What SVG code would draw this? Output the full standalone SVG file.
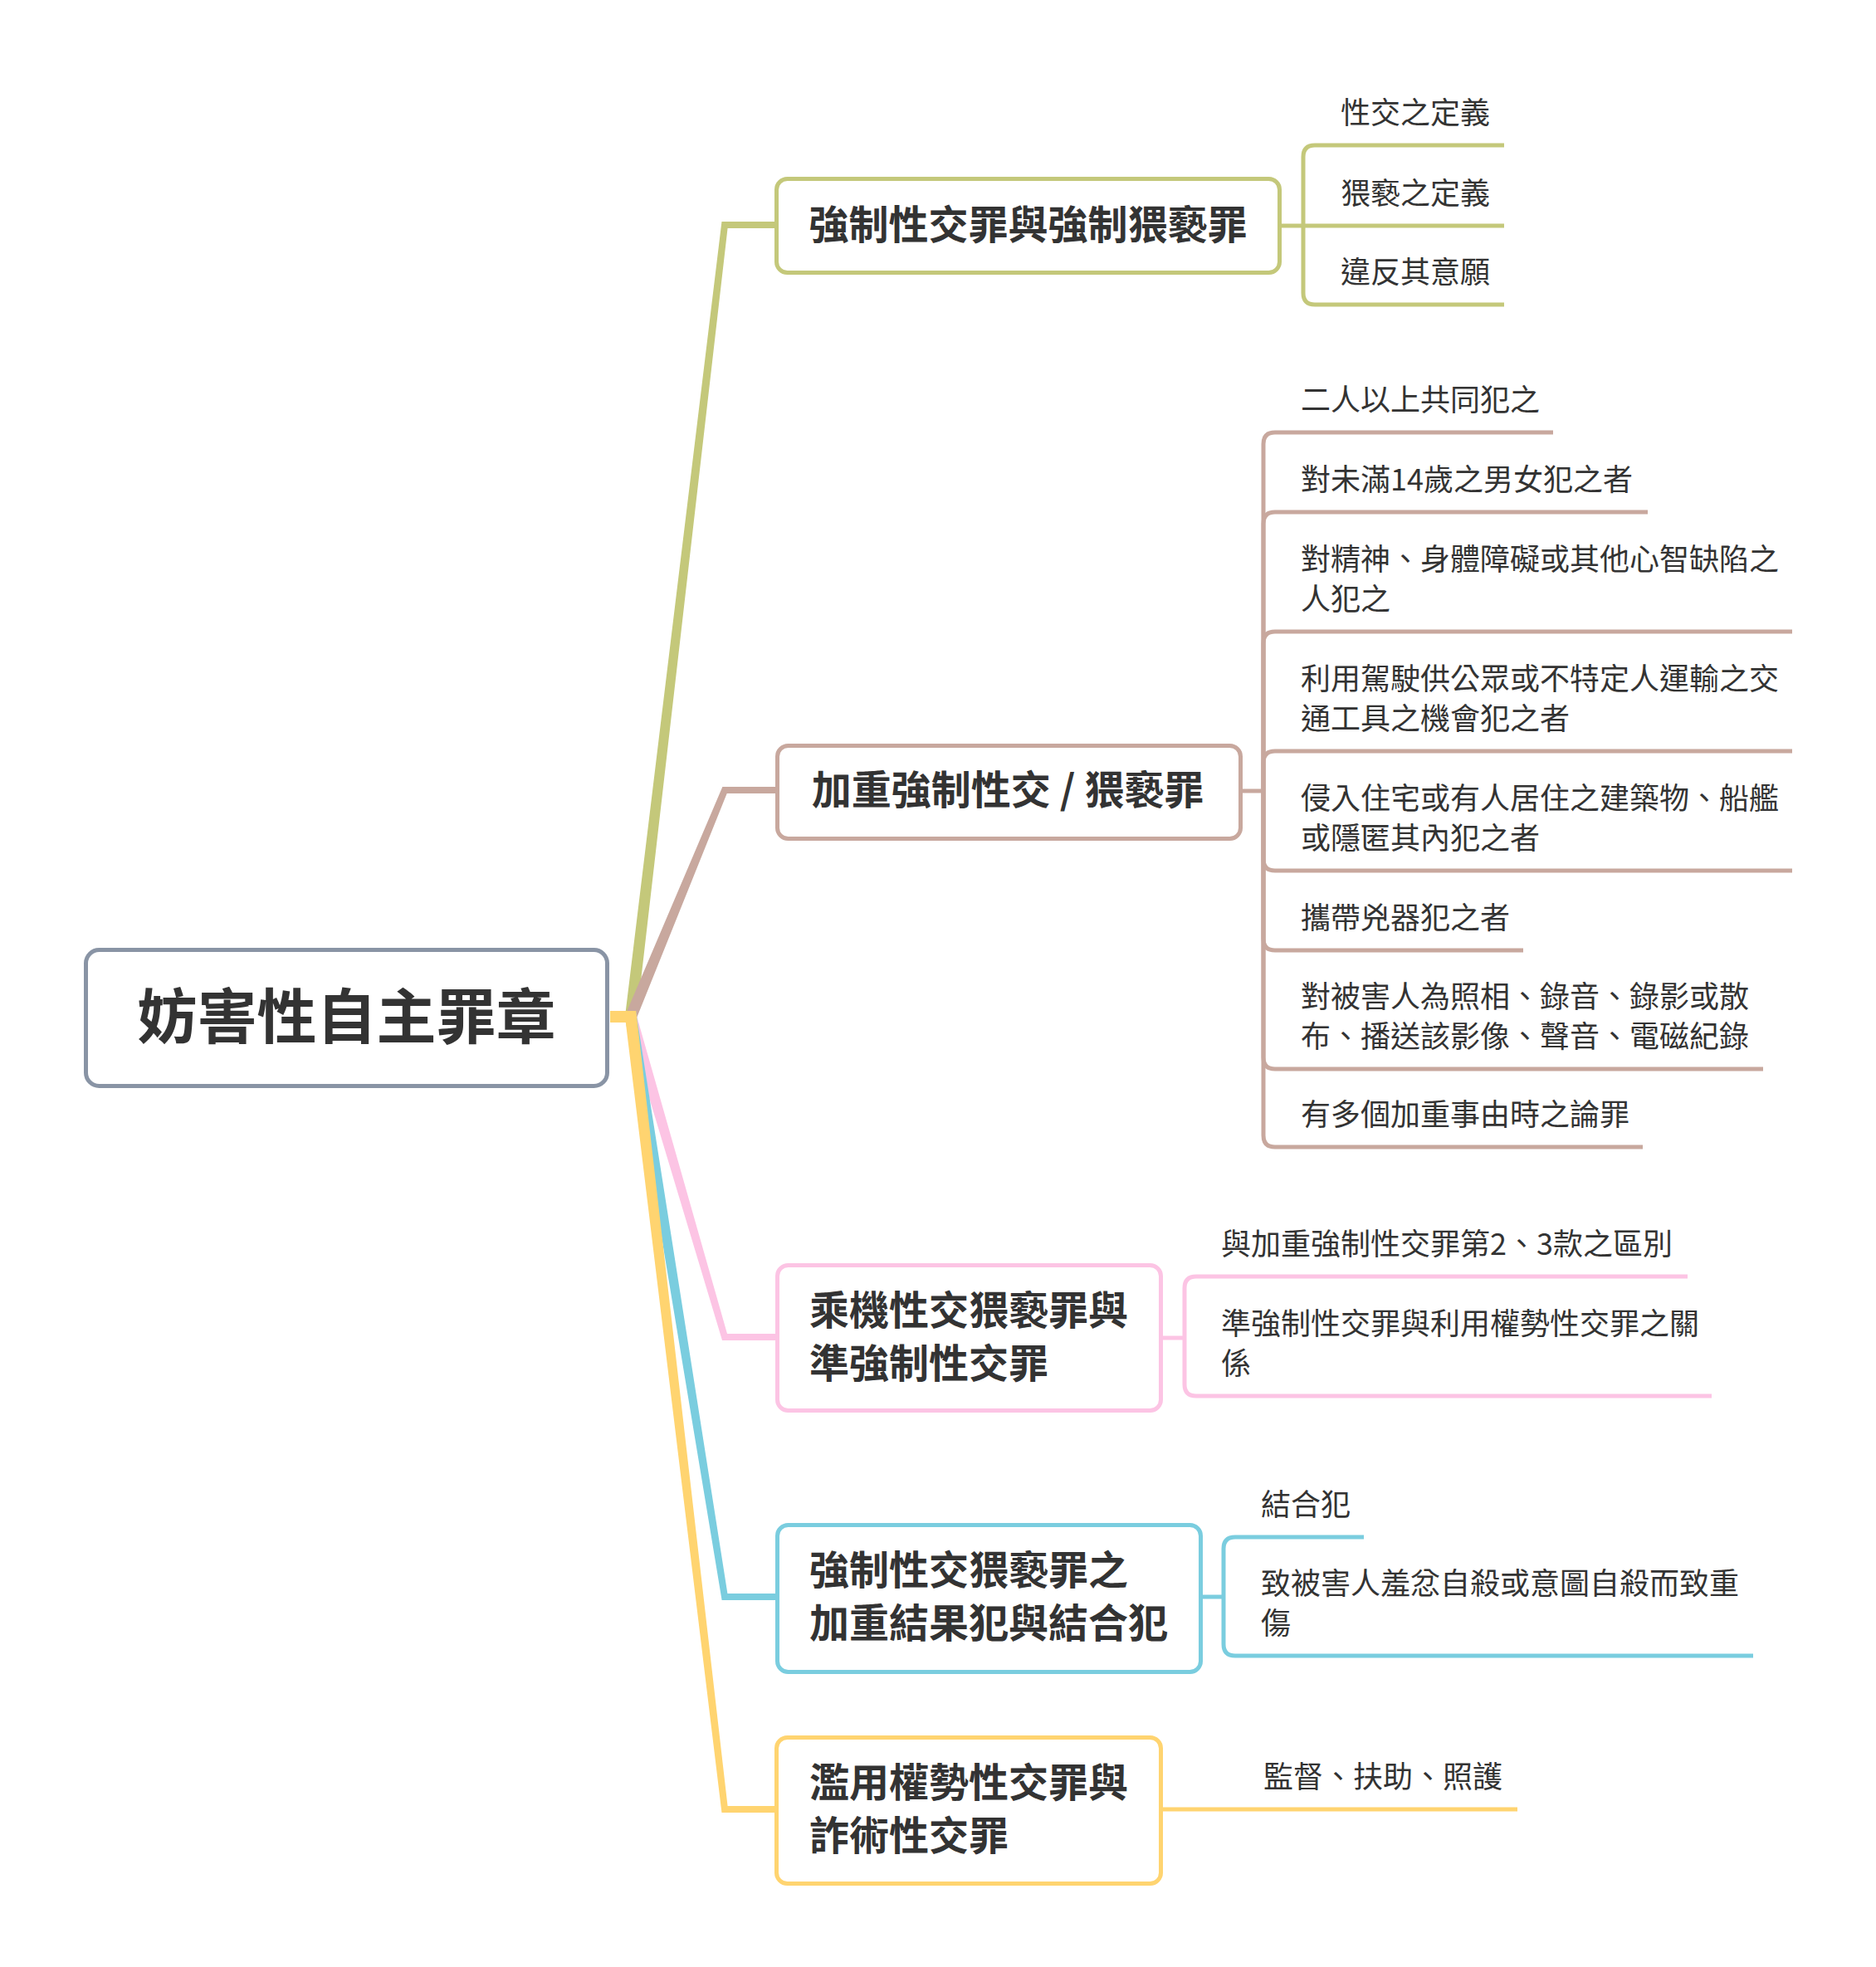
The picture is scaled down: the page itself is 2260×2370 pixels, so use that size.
<svg xmlns="http://www.w3.org/2000/svg" width="2260" height="2370" viewBox="0 0 2260 2370">
<style>
.t{font-family:"Noto Sans CJK TC","Noto Sans CJK SC",sans-serif;fill:#333333}
.root{font-size:72px;font-weight:700}
.main{font-size:48px;font-weight:700}
.sub{font-size:36px;font-weight:400}
.box{fill:#ffffff;stroke-width:5}
.ln{fill:none;stroke-width:5}
.green{stroke:#C4C87A}
.tan{stroke:#C8A89E}
.pink{stroke:#FCC4E4}
.blue{stroke:#7ACDDF}
.yellow{stroke:#FFD470}
</style>
<rect width="2260" height="2370" fill="#ffffff"/>
<g id="connectors">
  <polygon fill="#C4C87A" points="735,1218 753.8,1218 869.46,267 936,267 936,275 876.57,275 766.24,1232 735,1232"/>
  <polygon fill="#C8A89E" points="735,1218 755.4,1218 870.37,948 936,948 936,956 875.72,956 764.77,1232 735,1232"/>
  <polygon fill="#FCC4E4" points="735,1218 765.3,1218 876.03,1607 936,1607 936,1615 870.03,1615 754.82,1232 735,1232"/>
  <polygon fill="#7ACDDF" points="735,1218 765.99,1218 876.42,1920 936,1920 936,1928 869.61,1928 754.07,1232 735,1232"/>
  <polygon fill="#FFD470" points="735,1218 766.24,1218 876.57,2176 936,2176 936,2184 869.46,2184 753.8,1232 735,1232"/>
  <g class="ln green">
    <path d="M1544,272 H1570"/>
    <path d="M1570,272 V189 Q1570,175 1584,175 H1812"/>
    <path d="M1570,272 H1812"/>
    <path d="M1570,272 V353 Q1570,367 1584,367 H1812"/>
  </g>
  <g class="ln tan">
    <path d="M1497,953 H1522"/>
    <path d="M1522,953 V535 Q1522,521 1536,521 H1871"/>
    <path d="M1522,953 V631 Q1522,617 1536,617 H1985"/>
    <path d="M1522,953 V775 Q1522,761 1536,761 H2159"/>
    <path d="M1522,953 V919 Q1522,905 1536,905 H2159"/>
    <path d="M1522,953 V1035 Q1522,1049 1536,1049 H2159"/>
    <path d="M1522,953 V1131 Q1522,1145 1536,1145 H1835"/>
    <path d="M1522,953 V1274 Q1522,1288 1536,1288 H2124"/>
    <path d="M1522,953 V1368 Q1522,1382 1536,1382 H1979"/>
  </g>
  <g class="ln pink">
    <path d="M1401,1612 H1427"/>
    <path d="M1427,1612 V1552 Q1427,1538 1441,1538 H2033"/>
    <path d="M1427,1612 V1668 Q1427,1682 1441,1682 H2062"/>
  </g>
  <g class="ln blue">
    <path d="M1449,1924 H1474"/>
    <path d="M1474,1924 V1866 Q1474,1852 1488,1852 H1643"/>
    <path d="M1474,1924 V1981 Q1474,1995 1488,1995 H2112"/>
  </g>
  <g class="ln yellow">
    <path d="M1401,2180 H1828"/>
  </g>
</g>
<g id="root">
  <rect class="box" x="103.5" y="1144.5" width="628" height="164" rx="16" stroke="#8994A5"/>
  <text class="t root" x="417.5" y="1251" text-anchor="middle">妨害性自主罪章</text>
</g>
<g id="topic1">
  <rect class="box green" x="935.5" y="215.5" width="606" height="113" rx="13"/>
  <text class="t main" x="1238.5" y="288" text-anchor="middle">強制性交罪與強制猥褻罪</text>
</g>
<g id="topic1-subs">
  <text class="t sub" x="1615" y="149">性交之定義</text>
  <text class="t sub" x="1615" y="246">猥褻之定義</text>
  <text class="t sub" x="1615" y="341">違反其意願</text>
</g>
<g id="topic2">
  <rect class="box tan" x="936.5" y="898.5" width="558" height="112" rx="13"/>
  <text class="t main" x="1214" y="969" text-anchor="middle">加重強制性交 / 猥褻罪</text>
</g>
<g id="topic2-subs">
  <text class="t sub" x="1567" y="495">二人以上共同犯之</text>
  <text class="t sub" x="1567" y="591">對未滿14歲之男女犯之者</text>
  <text class="t sub" x="1567" y="687">對精神、身體障礙或其他心智缺陷之</text>
  <text class="t sub" x="1567" y="735">人犯之</text>
  <text class="t sub" x="1567" y="831">利用駕駛供公眾或不特定人運輸之交</text>
  <text class="t sub" x="1567" y="879">通工具之機會犯之者</text>
  <text class="t sub" x="1567" y="975">侵入住宅或有人居住之建築物、船艦</text>
  <text class="t sub" x="1567" y="1023">或隱匿其內犯之者</text>
  <text class="t sub" x="1567" y="1119">攜帶兇器犯之者</text>
  <text class="t sub" x="1567" y="1214">對被害人為照相、錄音、錄影或散</text>
  <text class="t sub" x="1567" y="1262">布、播送該影像、聲音、電磁紀錄</text>
  <text class="t sub" x="1567" y="1356">有多個加重事由時之論罪</text>
</g>
<g id="topic3">
  <rect class="box pink" x="936.5" y="1524.5" width="462" height="175" rx="13"/>
  <text class="t main" x="975" y="1596">乘機性交猥褻罪與</text>
  <text class="t main" x="975" y="1660">準強制性交罪</text>
</g>
<g id="topic3-subs">
  <text class="t sub" x="1471" y="1512">與加重強制性交罪第2、3款之區別</text>
  <text class="t sub" x="1471" y="1608">準強制性交罪與利用權勢性交罪之關</text>
  <text class="t sub" x="1471" y="1656">係</text>
</g>
<g id="topic4">
  <rect class="box blue" x="936.5" y="1837.5" width="510" height="177" rx="13"/>
  <text class="t main" x="975" y="1909">強制性交猥褻罪之</text>
  <text class="t main" x="975" y="1973">加重結果犯與結合犯</text>
</g>
<g id="topic4-subs">
  <text class="t sub" x="1519" y="1826">結合犯</text>
  <text class="t sub" x="1519" y="1921">致被害人羞忿自殺或意圖自殺而致重</text>
  <text class="t sub" x="1519" y="1969">傷</text>
</g>
<g id="topic5">
  <rect class="box yellow" x="935.5" y="2093.5" width="463" height="176" rx="13"/>
  <text class="t main" x="975" y="2165">濫用權勢性交罪與</text>
  <text class="t main" x="975" y="2229">詐術性交罪</text>
</g>
<g id="topic5-subs">
  <text class="t sub" x="1522" y="2154">監督、扶助、照護</text>
</g>
</svg>
